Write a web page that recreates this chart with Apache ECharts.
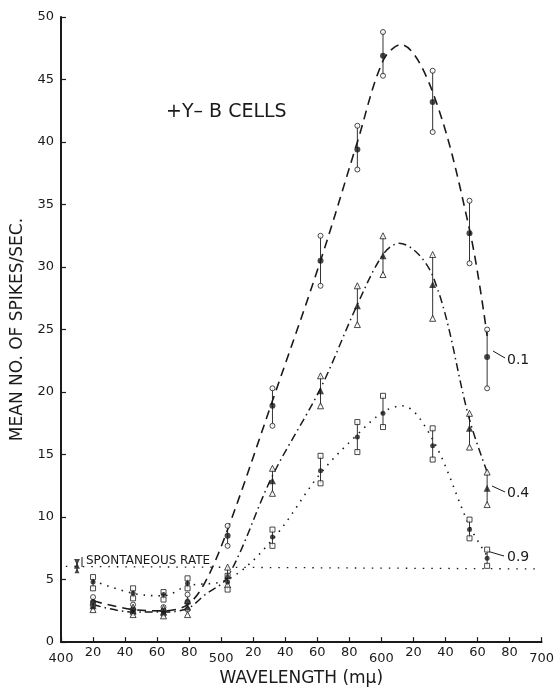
<!DOCTYPE html>
<html>
<head>
<meta charset="utf-8">
<script src="https://cdn.jsdelivr.net/npm/echarts@6/dist/echarts.min.js"></script>
<style>html,body{margin:0;padding:0;background:#fff}#c{width:557px;height:692px}</style>
</head>
<body>
<div id="c"></div>
<script>
// ---- data ----
const wavelengths = [420, 445, 464, 479, 504, 532, 562, 585, 601, 632, 655, 666];

const mean01 = [3.2, 2.6, 2.5, 3.2, 8.5, 18.9, 30.5, 39.4, 46.9, 43.2, 32.7, 22.8];
const hi01   = [3.6, 3.0, 2.8, 3.8, 9.3, 20.3, 32.5, 41.3, 48.8, 45.7, 35.3, 25.0];
const lo01   = [2.9, 2.3, 2.2, 2.6, 7.7, 17.3, 28.5, 37.8, 45.3, 40.8, 30.3, 20.3];

const mean04 = [2.9, 2.5, 2.4, 2.8, 5.3, 12.9, 20.1, 26.9, 30.9, 28.6, 17.1, 12.3];
const hi04   = [3.2, 2.8, 2.7, 3.3, 6.0, 13.9, 21.3, 28.5, 32.5, 31.0, 18.3, 13.6];
const lo04   = [2.6, 2.2, 2.1, 2.2, 4.6, 11.9, 18.9, 25.4, 29.4, 25.9, 15.6, 11.0];

const mean09 = [4.8, 3.9, 3.8, 4.7, 4.8, 8.4, 13.7, 16.4, 18.3, 15.7, 9.0, 6.7];
const hi09   = [5.2, 4.3, 4.0, 5.1, 5.3, 9.0, 14.9, 17.6, 19.7, 17.1, 9.8, 7.4];
const lo09   = [4.3, 3.5, 3.4, 4.3, 4.2, 7.7, 12.7, 15.2, 17.2, 14.6, 8.3, 6.1];

const spontX = [410];
const spontMean = [6.1];
const spontHi = [6.4];
const spontLo = [5.7];

const spontLineX = [403, 700];
const spontLineY = [6.05, 5.85];

// fitted curves as drawn in the reference
const curve01X = [420, 445, 464, 479, 490, 504, 532, 562, 585, 601, 612, 632, 655, 666];
const curve01Y = [3.3, 2.6, 2.5, 3.0, 4.8, 9.0, 19.3, 30.5, 40.0, 46.5, 47.8, 44.0, 33.0, 24.5];
const curve04X = [420, 445, 464, 479, 490, 504, 532, 562, 585, 601, 611, 632, 655, 666];
const curve04Y = [3.0, 2.4, 2.4, 2.7, 3.8, 5.2, 13.3, 20.3, 27.0, 31.0, 31.9, 29.3, 17.8, 13.6];
const curve09X = [420, 445, 464, 479, 504, 532, 562, 585, 601, 613, 632, 655, 666];
const curve09Y = [4.9, 3.9, 3.7, 4.5, 5.0, 8.2, 13.5, 16.6, 18.4, 18.9, 16.2, 9.3, 6.9];

const xTicks = [400, 700, 20];
const yTicks = [0, 50, 5];
const seriesLabels = ['0.1', '0.4', '0.9'];

// ---- build ----
const zip = (xs, ys) => xs.map((x, i) => [x, ys[i]]);
const ink = '#1a1a1a';
const FONT = '"DejaVu Sans", "Liberation Sans", Arial, sans-serif';

function errBars(xs, lo, hi) {
  return {
    type: 'custom',
    z: 2,
    silent: true,
    renderItem: (params, api) => {
      const a = api.coord([api.value(0), api.value(1)]);
      const b = api.coord([api.value(0), api.value(2)]);
      return { type: 'line', shape: { x1: a[0], y1: a[1], x2: b[0], y2: b[1] },
               style: { stroke: '#333', lineWidth: 1 } };
    },
    data: xs.map((x, i) => [x, lo[i], hi[i]])
  };
}
function openPts(xs, ys, sym, size) {
  return { type: 'scatter', z: 4, symbol: sym, symbolSize: size, silent: true,
    itemStyle: { color: '#fff', borderColor: ink, borderWidth: 1 }, data: zip(xs, ys) };
}
function fillPts(xs, ys, sym, size) {
  return { type: 'scatter', z: 5, symbol: sym, symbolSize: size, silent: true,
    itemStyle: { color: ink }, data: zip(xs, ys) };
}
function curve(xs, ys, dash, w) {
  return { type: 'line', z: 3, smooth: 0.35, showSymbol: false, silent: true,
    lineStyle: { color: ink, width: w, type: dash, dashOffset: 0 }, data: zip(xs, ys) };
}

const series = [
  curve(curve01X, curve01Y, [9, 6], 1.6),
  curve(curve04X, curve04Y, [8, 4, 1.5, 4], 1.5),
  curve(curve09X, curve09Y, [1.5, 6], 1.6),
  { type: 'line', z: 1, showSymbol: false, silent: true,
    lineStyle: { color: ink, width: 1.3, type: [1.5, 7] }, data: zip(spontLineX, spontLineY) },
  errBars(wavelengths, lo01, hi01),
  errBars(wavelengths, lo04, hi04),
  errBars(wavelengths, lo09, hi09),
  errBars(spontX, spontLo, spontHi),
  openPts(wavelengths, hi01, 'circle', 5),
  openPts(wavelengths, lo01, 'circle', 5),
  fillPts(wavelengths, mean01, 'circle', 6),
  openPts(wavelengths, hi04, 'triangle', 6),
  openPts(wavelengths, lo04, 'triangle', 6),
  fillPts(wavelengths, mean04, 'triangle', 7),
  openPts(wavelengths, hi09, 'rect', 5),
  openPts(wavelengths, lo09, 'rect', 5),
  fillPts(wavelengths, mean09, 'circle', 5),
  fillPts(spontX, spontHi, 'path://M0,0 L10,0 L5,8 Z', 6),
  fillPts(spontX, spontMean, 'path://M0,8 L10,8 L5,0 Z', 6),
  fillPts(spontX, spontLo, 'path://M0,8 L10,8 L5,0 Z', 5)
];

const chart = echarts.init(document.getElementById('c'), null, { renderer: 'canvas' });
chart.setOption({
  backgroundColor: '#fff',
  animation: false,
  textStyle: { fontFamily: FONT, color: ink },
  grid: { left: 61, right: 15, top: 17, bottom: 41, containLabel: false },
  xAxis: {
    type: 'value', min: xTicks[0], max: xTicks[1], interval: xTicks[2],
    name: 'WAVELENGTH (m\u00b5)', nameLocation: 'middle', nameGap: 24,
    nameTextStyle: { fontSize: 17, color: ink, fontFamily: FONT },
    axisLine: { lineStyle: { color: ink, width: 2 } },
    axisTick: { inside: true, length: 5, lineStyle: { color: ink, width: 1.2 } },
    splitLine: { show: false },
    axisLabel: {
      margin: 4, fontSize: 13, color: ink, fontFamily: FONT,
      formatter: v => (v % 100 === 0 ? '{big|' + v + '}' : '{sm|' + (v % 100) + '}'),
      rich: { big: { fontSize: 13, padding: [6, 0, 0, 0] }, sm: { fontSize: 13, padding: [0, 0, 0, 0] } }
    }
  },
  yAxis: {
    type: 'value', min: yTicks[0], max: yTicks[1], interval: yTicks[2],
    name: 'MEAN NO. OF SPIKES/SEC.', nameLocation: 'middle', nameGap: 32, nameRotate: 90,
    nameTextStyle: { fontSize: 17, color: ink, fontFamily: FONT },
    axisLine: { lineStyle: { color: ink, width: 2 } },
    axisTick: { inside: true, length: 5, lineStyle: { color: ink, width: 1.2 } },
    splitLine: { show: false },
    axisLabel: { margin: 7, fontSize: 13, color: ink, fontFamily: FONT }
  },
  graphic: [
    { type: 'text', left: 166, top: 103, style: { text: '+Y\u2013 B CELLS', font: '19px ' + FONT, fill: ink } },
    { type: 'text', left: 86, top: 555, style: { text: 'SPONTANEOUS RATE', font: '12px ' + FONT, fill: ink } },
    { type: 'line', shape: { x1: 82, y1: 557, x2: 82, y2: 567 }, style: { stroke: ink, lineWidth: 1 } },
    { type: 'text', left: 507, top: 353, style: { text: seriesLabels[0], font: '14px ' + FONT, fill: ink } },
    { type: 'line', shape: { x1: 493, y1: 351, x2: 505, y2: 358 }, style: { stroke: ink, lineWidth: 1 } },
    { type: 'text', left: 507, top: 486, style: { text: seriesLabels[1], font: '14px ' + FONT, fill: ink } },
    { type: 'line', shape: { x1: 492, y1: 486, x2: 505, y2: 492 }, style: { stroke: ink, lineWidth: 1 } },
    { type: 'text', left: 507, top: 550, style: { text: seriesLabels[2], font: '14px ' + FONT, fill: ink } },
    { type: 'line', shape: { x1: 487, y1: 551, x2: 504, y2: 556 }, style: { stroke: ink, lineWidth: 1 } }
  ],
  series: series
});
</script>
</body>
</html>
